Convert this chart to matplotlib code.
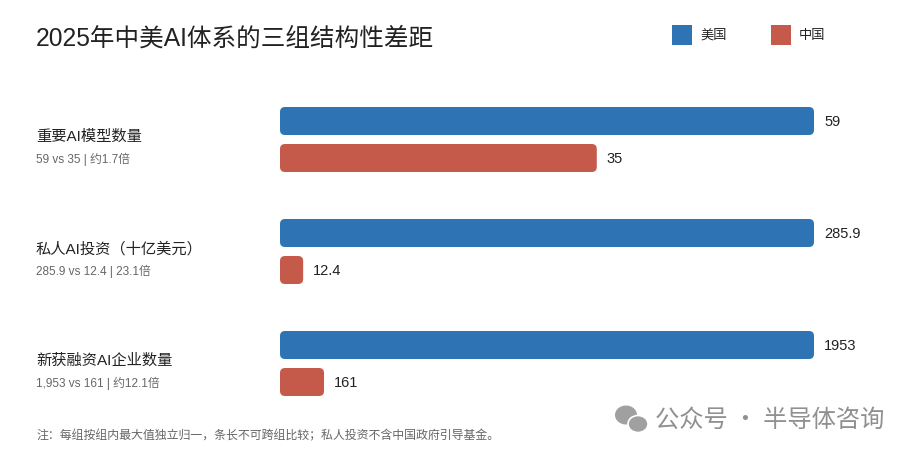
import matplotlib
matplotlib.use("Agg")
import matplotlib.pyplot as plt
from matplotlib.patches import FancyBboxPatch, Ellipse, Rectangle

plt.rcParams['font.family'] = ['Liberation Sans', 'Noto Sans CJK SC', 'DejaVu Sans']
CJK = ['Noto Sans CJK SC', 'DejaVu Sans']

# data
metrics = ["重要AI模型数量", "私人AI投资（十亿美元）", "新获融资AI企业数量"]
us_vals = [59, 285.9, 1953]
cn_vals = [35, 12.4, 161]
us_labels = ["59", "285.9", "1953"]
cn_labels = ["35", "12.4", "161"]
subtitles = ["59 vs 35 | 约1.7倍", "285.9 vs 12.4 | 23.1倍", "1,953 vs 161 | 约12.1倍"]
series = ["美国", "中国"]

BLUE = "#2E74B5"
RED = "#C55A4B"
DARK = "#222222"
GRAY = "#666666"

W, H = 916, 458
fig = plt.figure(figsize=(W / 100, H / 100), dpi=100)
fig.patch.set_facecolor("white")

# bar axes: x in normalized units (0..1), y in figure pixels (top-down)
x0, x1 = 280, 814
ax = fig.add_axes([x0 / W, 0, (x1 - x0) / W, 1])
ax.set_xlim(0, 1)
ax.set_ylim(H, 0)
ax.axis("off")

bar_h = 28
group_gap = 112
first_center = 121
pair_gap = 37
px_w = x1 - x0

for i, (m, u, c) in enumerate(zip(metrics, us_vals, cn_vals)):
    mx = max(u, c)
    yc = first_center + i * group_gap
    for j, (v, lab, col) in enumerate(((u, us_labels[i], BLUE), (c, cn_labels[i], RED))):
        y = yc + j * pair_gap
        b = ax.barh([y], [v / mx], height=bar_h, color=col)[0]
        b.set_visible(False)
        rx = 5 / px_w
        fb = FancyBboxPatch((b.get_x(), b.get_y()), b.get_width(), b.get_height(),
                            boxstyle="round,pad=0,rounding_size=%f" % rx,
                            mutation_aspect=5 / rx,
                            facecolor=col, edgecolor="none")
        ax.add_patch(fb)
        ax.text(b.get_width() + 10 / px_w, y + 1, lab, ha="left", va="center",
                fontsize=10.5, color=DARK)
    fig.text(36 / W, 1 - (yc + 16) / H, m, ha="left", va="center", fontsize=11, color=DARK)
    fig.text(36 / W, 1 - (yc + 38) / H, subtitles[i], ha="left", va="center",
             fontsize=8.5, color=GRAY)

# title
fig.text(36 / W, 1 - 39 / H, "2025年中美AI体系的三组结构性差距", ha="left", va="center",
         fontsize=17.7, color=DARK)

# legend
for k, (name, col) in enumerate(zip(series, (BLUE, RED))):
    lx = 672 + k * 99
    fig.patches.append(Rectangle((lx / W, 1 - 45 / H), 20 / W, 20 / H,
                                 transform=fig.transFigure, facecolor=col, edgecolor="none"))
    fig.text((lx + 28) / W, 1 - 35 / H, name, ha="left", va="center", fontsize=9.5,
             color=DARK, family=CJK)

# footnote
fig.text(36 / W, 1 - 436 / H, "注：每组按组内最大值独立归一，条长不可跨组比较；私人投资不含中国政府引导基金。",
         ha="left", va="center", fontsize=8.6, color=GRAY, family=CJK)

# watermark
wm = "#a0a0a0"
fig.patches.append(Ellipse((626 / W, 1 - 415 / H), 22 / W, 19 / H,
                           transform=fig.transFigure, facecolor=wm, edgecolor="none"))
fig.patches.append(Ellipse((638 / W, 1 - 424 / H), 20 / W, 17 / H,
                           transform=fig.transFigure, facecolor=wm, edgecolor="white", lw=1.2))
fig.text(655 / W, 1 - 420 / H, "公众号 · 半导体咨询", ha="left", va="center",
         fontsize=17.5, color="#909090", family=CJK)

fig.savefig("out.png", dpi=100)
